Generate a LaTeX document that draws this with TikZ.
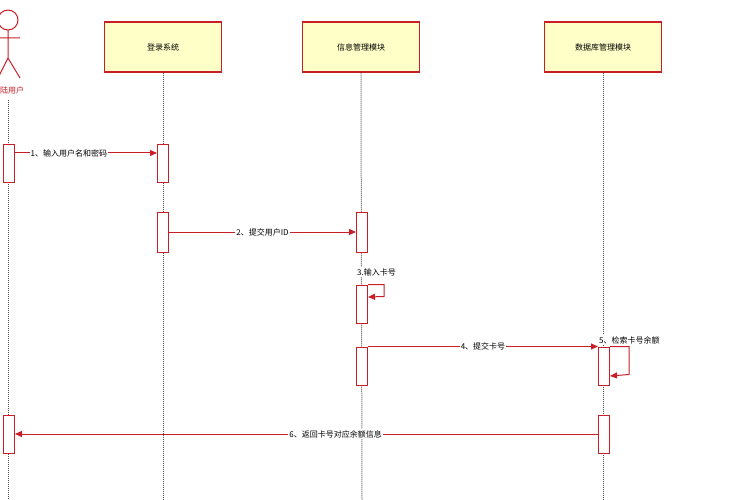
\documentclass[tikz,border=0pt]{standalone}
\usepackage{fontspec}
\setmainfont{Noto Sans CJK SC}
\usetikzlibrary{arrows.meta}
\definecolor{rd}{RGB}{200,30,40}
\definecolor{bx}{RGB}{255,255,200}
\tikzset{
 head/.style={draw=rd,line width=1.2pt,fill=bx,minimum width=117pt,minimum height=50pt,font=\fontsize{8}{9}\selectfont},
 act/.style={draw=rd,line width=1pt,fill=white,minimum width=11pt,inner sep=0pt},
 life/.style={densely dotted,line width=1pt,black!70},
 msg/.style={draw=rd,line width=1pt,-{Triangle[length=7pt,width=6pt]}},
 lbl/.style={fill=white,inner sep=1pt,font=\fontsize{8}{9}\selectfont},
}
\begin{document}
\begin{tikzpicture}[x=1pt,y=-1pt]
\useasboundingbox (0,0) rectangle (750,500);
\path[clip] (0,0) rectangle (750,500);
\node[head] (h1) at (163,47) {登录系统};
\node[head] (h2) at (361,47) {信息管理模块};
\node[head] (h3) at (603,47) {数据库管理模块};
% actor
\draw[rd,line width=1pt] (8,20) circle (10);
\draw[rd,line width=1pt] (8,30)--(8,58) (-4,38)--(20,38) (8,58)--(-2,78) (8,58)--(20,78);
\node[text=rd,font=\fontsize{8}{9}\selectfont] (actor) at (8,90) {登陆用户};
\coordinate (ub) at (8,500);
\draw[life] (8,100)--(ub);
\draw[life] (h1.south)--(163,500);
\draw[life] (h2.south)--(362,500);
\draw[life] (h3.south)--(603,500);
% activations
\node[act,minimum height=38pt] (u1) at (9,164) {};
\node[act,minimum height=38pt] (l1) at (163,164) {};
\node[act,minimum height=40pt] (l2) at (163,232) {};
\node[act,minimum height=40pt] (i1) at (362,232) {};
\node[act,minimum height=38pt] (i2) at (362,304) {};
\node[act,minimum height=38pt] (i3) at (362,366) {};
\node[act,minimum height=38pt] (d1) at (604,366) {};
\node[act,minimum height=38pt] (u2) at (9,434) {};
\node[act,minimum height=38pt] (d2) at (604,434) {};
% messages
\draw[msg] (u1.east|-0,153) -- node[lbl,pos=0.38]{1、输入用户名和密码} (l1.west|-0,153);
\draw[msg] (l2.east) -- node[lbl]{2、提交用户ID} (i1.west);
\node[lbl,anchor=west] (t3) at (356,272) {3.输入卡号};
\draw[msg] (i2.north east) -- ++(16,0) -- ++(0,12) -- (i2.east|-0,297);
\draw[msg] (i3.north east) -- node[lbl]{4、提交卡号} (d1.north west);
\node[lbl,anchor=west] (t5) at (598,340) {5、检索卡号余额};
\draw[msg] (d1.north east) -- ++(19,0) -- ++(0,28) -- (d1.east|-0,376);
\draw[msg] (d2.west) -- node[lbl,pos=0.45]{6、返回卡号对应余额信息} (u2.east);
\end{tikzpicture}
\end{document}
